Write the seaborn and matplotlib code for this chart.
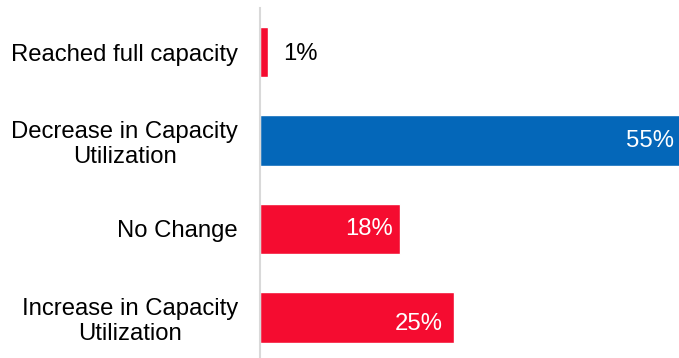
import matplotlib
matplotlib.use("Agg")
import matplotlib.pyplot as plt
import seaborn as sns
import pandas as pd

categories = ["Reached full capacity", "Decrease in Capacity\nUtilization",
              "No Change", "Increase in Capacity\nUtilization"]
values = [1, 55, 18, 25]
labels = ["1%", "55%", "18%", "25%"]
colors = ["#F50C30", "#0467B9", "#F50C30", "#F50C30"]

df = pd.DataFrame({"category": categories, "value": values})

sns.set_theme(style="white")
plt.rcParams["font.family"] = ["Liberation Sans", "DejaVu Sans"]

FS = 17.2
fig = plt.figure(figsize=(6.79, 3.58), dpi=100)
ax = fig.add_axes([260 / 679, 0.0, 1 - 260 / 679, 1 - 8 / 358])

sns.barplot(data=df, x="value", y="category", hue="category",
            palette=colors, legend=False, orient="h", width=0.57,
            saturation=1, ax=ax)

ax.set_xlim(0, 53.9)
ax.set_ylim(3.46, -0.5)
ax.set_xlabel("")
ax.set_ylabel("")
ax.set_xticks([])

for s in ["top", "right", "bottom"]:
    ax.spines[s].set_visible(False)
ax.spines["left"].set_color("#D9D9D9")
ax.spines["left"].set_linewidth(1.5)

ax.tick_params(axis="y", length=0, pad=15.8, labelsize=FS, labelcolor="#000000")
for t in ax.get_yticklabels():
    t.set_multialignment("center")
    t.set_linespacing(1.17)

offsets = [-1.5, 0, 0, -5]
for i, (v, lab) in enumerate(zip(values, labels)):
    if v < 5:
        ax.annotate(lab, xy=(v, i), xytext=(11, offsets[i]), textcoords="offset points",
                    ha="left", va="center", fontsize=FS, color="#000000",
                    annotation_clip=False)
    else:
        pad = {55: -9.5, 18: -5, 25: -8}[v]
        ax.annotate(lab, xy=(v, i), xytext=(pad, offsets[i]),
                    textcoords="offset points", ha="right", va="center",
                    fontsize=FS, color="white", annotation_clip=False)

fig.savefig("out.png", dpi=100)
